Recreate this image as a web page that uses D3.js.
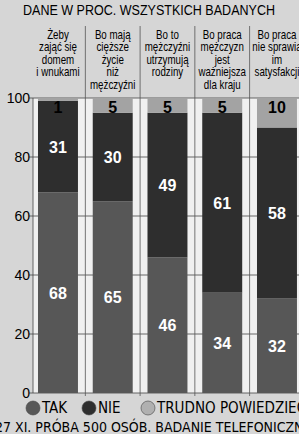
<!DOCTYPE html>
<html>
<head>
<meta charset="utf-8">
<script src="https://cdn.jsdelivr.net/npm/d3@7"></script>
<style>
  body { margin: 0; background: #d6d6d6; }
  svg { display: block; }
</style>
</head>
<body>
<svg id="chart" width="299" height="434"></svg>
<script>
const categories = [
  ["Żeby", "zająć się", "domem", "i wnukami"],
  ["Bo mają", "cięższe", "życie", "niż", "mężczyźni"],
  ["Bo to", "mężczyźni", "utrzymują", "rodziny"],
  ["Bo praca", "mężczyzn", "jest", "ważniejsza", "dla kraju"],
  ["Bo praca", "nie sprawia", "im", "satysfakcji"]
]
const tak = [68, 65, 46, 34, 32]
const nie = [31, 30, 49, 61, 58]
const trudno = [1, 5, 5, 5, 10]
const yTicks = [0, 20, 40, 60, 80, 100]
const seriesNames = ["TAK", "NIE", "TRUDNO POWIEDZIEĆ"]
const colors = ["#575757", "#2e2e2e", "#a3a3a3"]

const narrow = "'DejaVu Sans Condensed', 'Liberation Sans Narrow', sans-serif"
const sans = "'Liberation Sans', Arial, sans-serif"
const svg = d3.select("#chart")

const ids = categories.map((d, i) => i)
const x = d3.scaleBand().domain(ids).range([30.6, 30.6 + 5 * 54.75]).paddingInner(0.27).paddingOuter(0.135)
const y = d3.scaleLinear().domain([0, 100]).range([393, 98])

// title
svg.append("text")
  .attr("x", 149).attr("y", 15)
  .attr("text-anchor", "middle")
  .style("font-family", sans)
  .style("font-size", "14px")
  .attr("textLength", 252)
  .attr("lengthAdjust", "spacingAndGlyphs")
  .text("DANE W PROC. WSZYSTKICH BADANYCH")

// plot background
svg.append("rect")
  .attr("x", 33).attr("y", y(100))
  .attr("width", 299 - 33).attr("height", y(0) - y(100))
  .attr("fill", "#f0f0f0")

// gridlines
svg.selectAll(".grid")
  .data(yTicks)
  .enter()
  .append("line")
  .attr("x1", 29).attr("x2", 299)
  .attr("y1", d => y(d)).attr("y2", d => y(d))
  .attr("stroke", "#444").attr("stroke-width", 0.8)

// dividers between categories
const dividers = ids.slice(1).map(i => x(i) - x.step() * x.paddingInner() / 2)
svg.selectAll(".divider")
  .data(dividers)
  .enter()
  .append("line")
  .attr("x1", d => d).attr("x2", d => d)
  .attr("y1", 26).attr("y2", y(0) + 3)
  .attr("stroke", "#555").attr("stroke-width", 0.8)

svg.append("line")
  .attr("x1", 33).attr("x2", 33)
  .attr("y1", y(100)).attr("y2", y(0))
  .attr("stroke", "#444").attr("stroke-width", 0.8)

// y labels
svg.selectAll(".ylab")
  .data(yTicks)
  .enter()
  .append("text")
  .attr("x", 30).attr("y", d => y(d) + 5)
  .attr("text-anchor", "end")
  .style("font-family", sans)
  .style("font-size", "14px")
  .text(d => d)

// stacked bars
const rows = ids.map(i => ({ i: i, TAK: tak[i], NIE: nie[i], TRUDNO: trudno[i] }))
const stack = d3.stack().keys(["TAK", "NIE", "TRUDNO"])(rows)

svg.selectAll(".layer")
  .data(stack)
  .enter()
  .append("g")
  .attr("fill", (d, k) => colors[k])
  .selectAll("rect")
  .data(d => d)
  .enter()
  .append("rect")
  .attr("x", d => x(d.data.i))
  .attr("width", x.bandwidth())
  .attr("y", d => y(d[1]))
  .attr("height", d => y(d[0]) - y(d[1]))

// value labels
stack.forEach((layer, k) => {
  svg.selectAll(".val" + k)
    .data(layer)
    .enter()
    .append("text")
    .attr("x", d => x(d.data.i) + x.bandwidth() / 2)
    .attr("y", d => k === 2 ? y(100) + 15 : y((d[0] + d[1]) / 2) + 6)
    .attr("text-anchor", "middle")
    .attr("fill", k === 2 ? "#000" : "#fff")
    .style("font-family", sans)
    .style("font-weight", "bold")
    .style("font-size", "16px")
    .text(d => d[1] - d[0])
})

// category headers (condensed look)
categories.forEach((lines, i) => {
  svg.append("text")
    .attr("transform", `translate(${x(i) + x.bandwidth() / 2},0) scale(0.78,1)`)
    .attr("text-anchor", "middle")
    .style("font-family", sans)
    .style("font-size", "12.5px")
    .selectAll("tspan")
    .data(lines)
    .enter()
    .append("tspan")
    .attr("x", 0)
    .attr("y", (d, j) => 39 + j * 12.5)
    .text(d => d)
})

// legend
const legendX = [33, 89, 148]
seriesNames.forEach((name, k) => {
  svg.append("circle")
    .attr("cx", legendX[k]).attr("cy", 408).attr("r", 7)
    .attr("fill", k === 2 ? "#b0b0b0" : colors[k])
    .attr("stroke", "#444").attr("stroke-width", 0.6)
  svg.append("text")
    .attr("x", legendX[k] + 9).attr("y", 413)
    .style("font-family", narrow)
    .style("font-size", "15px")
    .text(name)
})

svg.append("text")
  .attr("x", -5).attr("y", 432)
  .style("font-family", narrow)
  .style("font-size", "14px")
  .text("27 XI. PRÓBA 500 OSÓB. BADANIE TELEFONICZNE")
</script>
</body>
</html>
